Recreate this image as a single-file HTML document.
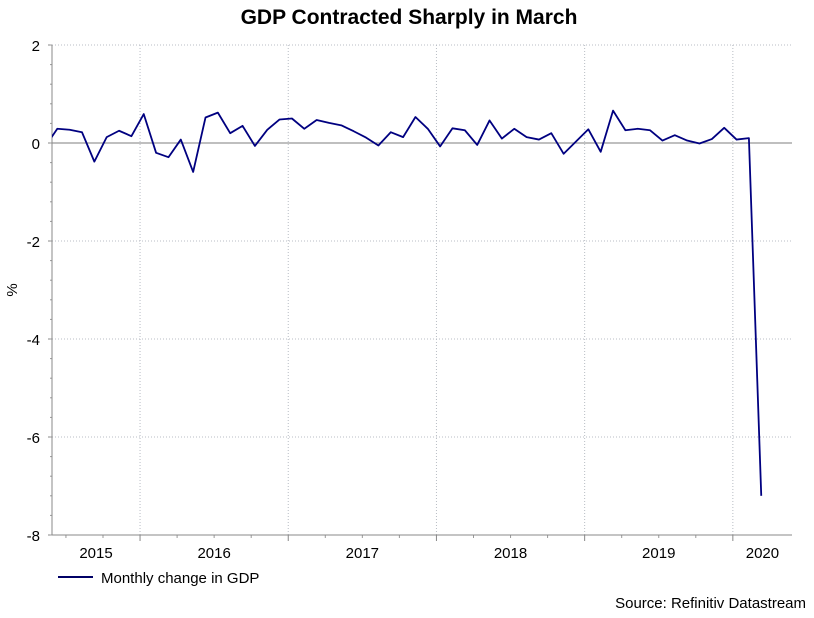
<!DOCTYPE html>
<html><head><meta charset="utf-8">
<style>
body{margin:0;background:#fff;}
svg{display:block;font-family:"Liberation Sans",Arial,sans-serif;}
</style></head>
<body>
<svg id="chart" width="814" height="618" viewBox="0 0 814 618">
<text x="409" y="24" text-anchor="middle" font-size="21" font-weight="bold" fill="#000">GDP Contracted Sharply in March</text>
<text transform="translate(17,290) rotate(-90)" text-anchor="middle" font-size="15" fill="#000">%</text>
<g id="grid"></g>
<g id="axes"></g>
<g id="series"></g>
<g>
<line x1="58" y1="577" x2="93" y2="577" stroke="#000066" stroke-width="2"/>
<text x="101" y="583" font-size="15" fill="#000">Monthly change in GDP</text>
</g>
<text x="806" y="608" text-anchor="end" font-size="15" fill="#000">Source: Refinitiv Datastream</text>
</svg>
<script>
// Monthly data starting May 2015 (index 0) through March 2020
const startYear = 2015;
const startMonth = 4; // May (0-based)
const values = [-0.08,0.29,0.27,0.22,-0.38,0.12,0.25,0.14,0.59,-0.2,-0.29,0.07,-0.59,0.52,0.62,0.2,0.35,-0.06,0.27,0.48,0.50,
0.29,0.47,0.41,0.36,0.24,0.11,-0.05,0.22,0.12,0.53,0.29,-0.07,0.30,0.26,-0.04,0.46,0.09,0.29,0.12,0.07,
0.2,-0.22,0.03,0.28,-0.18,0.66,0.26,0.29,0.26,0.05,0.16,0.05,-0.01,0.08,0.31,0.07,0.1,-7.2];
const yTicks = [2,0,-2,-4,-6,-8];
const yearLabels = ["2015","2016","2017","2018","2019","2020"];

const L=52,R=792,T=45,B=535;
const step=12.35, x0=44.95;
const yMin=-8,yMax=2;
function xs(i){return x0+step*i;}
function ys(v){return T+(yMax-v)/(yMax-yMin)*(B-T);}
const NS="http://www.w3.org/2000/svg";
function mk(tag,attrs,parent){const e=document.createElementNS(NS,tag);for(const k in attrs)e.setAttribute(k,attrs[k]);parent.appendChild(e);return e;}
const grid=document.getElementById('grid'),axes=document.getElementById('axes'),series=document.getElementById('series');

// y grid + labels
yTicks.forEach(v=>{
  const y=ys(v);
  if(v!==0&&v!==yMin){const g=mk('line',{x1:L,x2:R,y1:y,y2:y,stroke:'#b8bcc4','stroke-dasharray':'1,2'},grid);
  
  }
  const t=mk('text',{x:40,y:y+6,'text-anchor':'end','font-size':'15',fill:'#000'},axes);
  t.textContent=String(v);
  
  
  mk('line',{x1:L-4,x2:L,y1:y,y2:y,stroke:'#888'},axes);
});
for(let v=yMin;v<=yMax+1e-6;v+=0.4){const y=ys(v);mk('line',{x1:L-2,x2:L,y1:y,y2:y,stroke:'#999'},axes);}

// year boundaries
const n=values.length;
const bounds=[L];
for(let i=0;i<n;i++){const m=(startMonth+i)%12;if(m===0)bounds.push(xs(i-0.3));}
bounds.push(R);
for(let b=1;b<bounds.length-1;b++){
  const g=mk('line',{x1:bounds[b],x2:bounds[b],y1:T,y2:B,stroke:'#b8bcc4','stroke-dasharray':'1,2'},grid);
  
  
  mk('line',{x1:bounds[b],x2:bounds[b],y1:B,y2:B+6,stroke:'#888'},axes);
}
for(let i=0;i<n;i++){const m=(startMonth+i)%12;if(m%3===0&&m!==0){const x=xs(i-0.3);mk('line',{x1:x,x2:x,y1:B,y2:B+3,stroke:'#999'},axes);}}
for(let b=0;b<bounds.length-1;b++){
  const t=mk('text',{x:(bounds[b]+bounds[b+1])/2,y:558,'text-anchor':'middle','font-size':'15',fill:'#000'},axes);
  t.textContent=yearLabels[b];
  
  
}
// axis lines
const zl=mk('line',{x1:L,x2:R,y1:ys(0),y2:ys(0),stroke:'#999','stroke-width':1.2},grid);


const ya=mk('line',{x1:L,x2:L,y1:T,y2:B,stroke:'#888'},axes);


const xa=mk('line',{x1:L,x2:R,y1:B,y2:B,stroke:'#888'},axes);



// series
const defs=mk('defs',{},series);
const cp=mk('clipPath',{id:'clip'},defs);
mk('rect',{x:L,y:T,width:R-L,height:B-T},cp);
const pts=values.map((v,i)=>xs(i).toFixed(2)+','+ys(v).toFixed(2)).join(' ');
const pl=mk('polyline',{points:pts,fill:'none',stroke:'#000080','stroke-width':1.8,'stroke-linejoin':'round','clip-path':'url(#clip)'},series);


</script>
</body></html>
